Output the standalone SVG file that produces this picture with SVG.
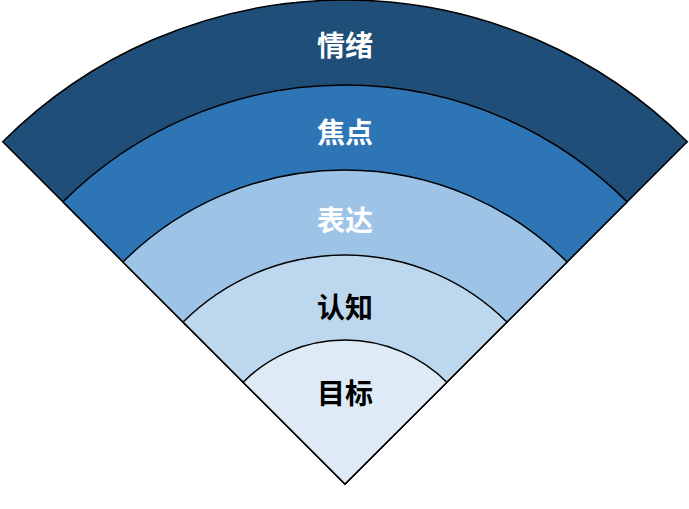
<svg xmlns="http://www.w3.org/2000/svg" width="689" height="509" viewBox="0 0 689 509">
<style>
.seg{stroke:#000;stroke-width:1.5;stroke-linejoin:miter}
.lbl{font-family:"Noto Sans CJK SC","Noto Sans",sans-serif;font-size:28px;font-weight:bold;text-anchor:middle;dominant-baseline:central}
.w{fill:#fff}
.b{fill:#000}
</style>
<rect width="689" height="509" fill="#fff"/>
<g id="layer1">
<path class="seg" fill="#1F4E79" d="M345,484 L2.76,141.76 A484,484 0 0 1 687.24,141.76 Z"/>
<text class="lbl w" x="345" y="44">情绪</text>
</g>
<g id="layer2">
<path class="seg" fill="#2E75B6" d="M345,484 L62.86,201.86 A399,399 0 0 1 627.14,201.86 Z"/>
<text class="lbl w" x="345" y="131">焦点</text>
</g>
<g id="layer3">
<path class="seg" fill="#9DC3E6" d="M345,484 L122.97,261.97 A314,314 0 0 1 567.03,261.97 Z"/>
<text class="lbl w" x="345" y="219">表达</text>
</g>
<g id="layer4">
<path class="seg" fill="#BDD7EE" d="M345,484 L183.07,322.07 A229,229 0 0 1 506.93,322.07 Z"/>
<text class="lbl b" x="345" y="306">认知</text>
</g>
<g id="layer5">
<path class="seg" fill="#DEEBF7" d="M345,484 L243.18,382.18 A144,144 0 0 1 446.82,382.18 Z"/>
<text class="lbl b" x="345" y="392">目标</text>
</g>
</svg>
